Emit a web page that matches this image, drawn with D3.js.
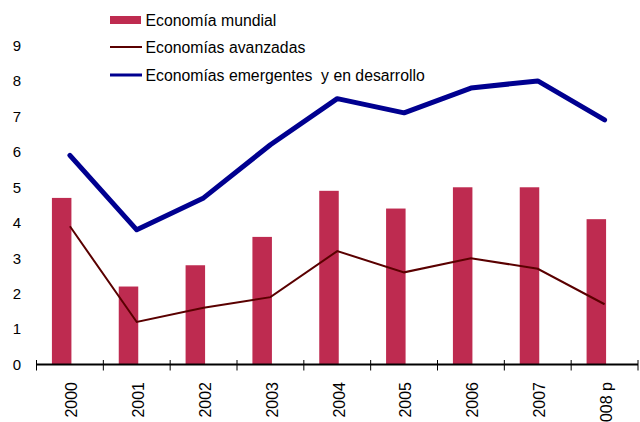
<!DOCTYPE html>
<html>
<head>
<meta charset="utf-8">
<script src="https://cdn.jsdelivr.net/npm/d3@7"></script>
<style>
  body { margin: 0; background: #fff; }
  text { font-family: "Liberation Sans", Arial, sans-serif; fill: #000; }
</style>
</head>
<body>
<div id="chart"></div>
<script>
// data
const years = ["2000", "2001", "2002", "2003", "2004", "2005", "2006", "2007", "2008 p"];
const mundial = [4.7, 2.2, 2.8, 3.6, 4.9, 4.4, 5.0, 5.0, 4.1];
const avanzadas = [3.9, 1.2, 1.6, 1.9, 3.2, 2.6, 3.0, 2.7, 1.7];
const emergentes = [5.9, 3.8, 4.7, 6.2, 7.5, 7.1, 7.8, 8.0, 6.9];
const yTicks = [0, 1, 2, 3, 4, 5, 6, 7, 8, 9];
const legendLabels = ["Economía mundial", "Economías avanzadas", "Economías emergentes  y en desarrollo"];

const width = 640, height = 422;

let svg = d3.select("#chart")
  .append("svg")
  .attr("width", width)
  .attr("height", height);

// scales
let x = d3.scaleBand()
  .domain(years)
  .range([36.5, 638]);

let y = d3.scaleLinear()
  .domain([0, 9])
  .range([364.5, 45.5]);

const cx = d => x(d) + x.bandwidth() / 2;

// bars, sit left of the category centre
svg.selectAll("rect.bar")
  .data(years)
  .enter()
  .append("rect")
  .attr("class", "bar")
  .attr("x", (d) => cx(d) - 18)
  .attr("width", 19.5)
  .attr("y", (d, i) => y(mundial[i]))
  .attr("height", (d, i) => y(0) - y(mundial[i]))
  .attr("fill", "#BE2B50");

// lines
let line = d3.line()
  .x(d => cx(d.year))
  .y(d => y(d.value));

svg.append("path")
  .datum(years.map((yr, i) => ({year: yr, value: avanzadas[i]})))
  .attr("d", line)
  .attr("fill", "none")
  .attr("stroke", "#5A0000")
  .attr("stroke-width", 2);

svg.append("path")
  .datum(years.map((yr, i) => ({year: yr, value: emergentes[i]})))
  .attr("d", line)
  .attr("fill", "none")
  .attr("stroke", "#000090")
  .attr("stroke-width", 5)
  .attr("stroke-linecap", "round")
  .attr("stroke-linejoin", "round");

// x axis: ticks on the category borders
let xAxis = svg.append("g");
xAxis.append("line")
  .attr("x1", x.range()[0]).attr("x2", x.range()[1])
  .attr("y1", y(0)).attr("y2", y(0))
  .attr("stroke", "#000")
  .attr("stroke-width", 2);

let borders = years.map(d => x(d)).concat([x.range()[1]]);
xAxis.selectAll("line.tick")
  .data(borders)
  .enter()
  .append("line")
  .attr("class", "tick")
  .attr("x1", d => d).attr("x2", d => d)
  .attr("y1", y(0) - 4.5).attr("y2", y(0) + 6)
  .attr("stroke", "#000")
  .attr("stroke-width", 1);

xAxis.selectAll("text")
  .data(years)
  .enter()
  .append("text")
  .attr("transform", d => "translate(" + (cx(d) + 1.5) + "," + (y(0) + 17.5) + ") rotate(-90)")
  .attr("text-anchor", "end")
  .attr("dy", "0.36em")
  .style("font-size", "16px")
  .text(d => d);

// y labels only, no axis line
svg.append("g")
  .selectAll("text")
  .data(yTicks)
  .enter()
  .append("text")
  .attr("x", 21)
  .attr("y", d => y(d))
  .attr("dy", "0.36em")
  .attr("text-anchor", "end")
  .style("font-size", "15px")
  .text(d => d);

// legend
let legend = svg.append("g");
legend.append("rect")
  .attr("x", 110).attr("y", 16)
  .attr("width", 31).attr("height", 8)
  .attr("fill", "#BE2B50");
legend.append("line")
  .attr("x1", 110).attr("x2", 142)
  .attr("y1", 47).attr("y2", 47)
  .attr("stroke", "#5A0000").attr("stroke-width", 2);
legend.append("line")
  .attr("x1", 110).attr("x2", 142)
  .attr("y1", 75).attr("y2", 75)
  .attr("stroke", "#000090").attr("stroke-width", 3);

legend.selectAll("text")
  .data(legendLabels)
  .enter()
  .append("text")
  .attr("x", 145.5)
  .attr("y", (d, i) => [20, 47, 75][i])
  .attr("dy", "0.36em")
  .style("font-size", "15.8px")
  .style("white-space", "pre")
  .attr("xml:space", "preserve")
  .text(d => d);
</script>
</body>
</html>
